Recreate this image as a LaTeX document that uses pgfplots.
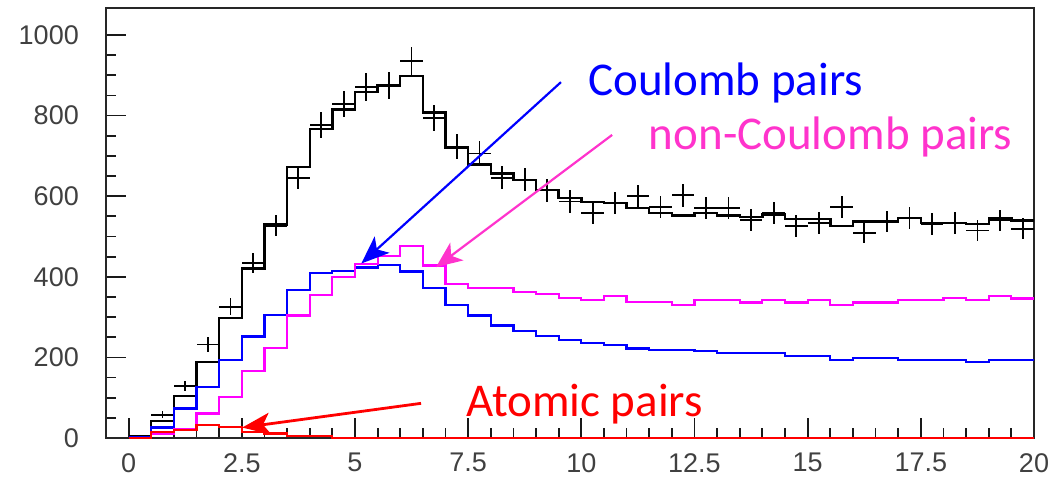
\documentclass[border=0pt]{standalone}
\usepackage{pgfplots}
\pgfplotsset{compat=1.18}
\usepackage{pgfplotstable}
\usepackage{fontspec}
\setmainfont{Liberation Sans}
\newfontfamily\carlito{Carlito}
\usetikzlibrary{arrows.meta}
\definecolor{magline}{HTML}{FF00FF}
\definecolor{magtext}{HTML}{FF33CC}

\pgfplotstableread{
x y
0 3
0.5 42
1 104
1.5 188
2 298
2.5 421
3 530
3.5 672
4 767
4.5 815
5 858
5.5 875
6 898
6.5 808
7 721
7.5 679
8 656
8.5 640
9 615
9.5 596
10 586
10.5 583
11 570
11.5 558
12 552
12.5 558
13 552
13.5 548
14 555
14.5 544
15 544
15.5 526
16 537
16.5 537
17 546
17.5 534
18 534
18.5 531
19 546
19.5 540
20 540
}\histblack

\pgfplotstableread{
x y
0 2
0.5 26
1 73
1.5 126
2 194
2.5 252
3 305
3.5 367
4 409
4.5 415
5 423
5.5 430
6 413
6.5 373
7 331
7.5 304
8 279
8.5 265
9 254
9.5 244
10 236
10.5 230
11 222
11.5 219
12 219
12.5 215
13 210
13.5 210
14 210
14.5 204
15 204
15.5 194
16 198
16.5 198
17 194
17.5 194
18 194
18.5 189
19 194
19.5 194
20 194
}\histblue

\pgfplotstableread{
x y
0 0
0.5 10
1 23
1.5 61
2 102
2.5 167
3 223
3.5 304
4 355
4.5 400
5 431
5.5 452
6 477
6.5 428
7 383
7.5 373
8 373
8.5 362
9 357
9.5 348
10 342
10.5 352
11 337
11.5 337
12 330
12.5 342
13 342
13.5 336
14 342
14.5 336
15 342
15.5 330
16 336
16.5 336
17 342
17.5 342
18 347
18.5 342
19 352
19.5 346
20 346
}\histmag

\pgfplotstableread{
x y
0 0
0.5 14
1 20
1.5 32
2 27
2.5 14
3 11
3.5 5
4 4
4.5 0
5 0
6 0
8 0
10 0
12 0
14 0
16 0
18 0
20 0
}\histred

\pgfplotstableread{
x y ex ey
0.25 5 0.25 3
0.75 58 0.25 9
1.25 129 0.25 13
1.75 232 0.25 17.5
2.25 326 0.25 21
2.75 434 0.25 24
3.25 527 0.25 26.4
3.75 646 0.25 29
4.25 776 0.25 32
4.75 829 0.25 33
5.25 871 0.25 34
5.75 875 0.25 34
6.25 935 0.25 35
6.75 794 0.25 32.4
7.25 723 0.25 31
7.75 706 0.25 30.5
8.25 646 0.25 29
8.75 641 0.25 29
9.25 615 0.25 28.5
9.75 587 0.25 28
10.25 559 0.25 27
10.75 583 0.25 28
11.25 600 0.25 28
11.75 574 0.25 27.5
12.25 602 0.25 28
12.75 571 0.25 27.5
13.25 571 0.25 27.5
13.75 541 0.25 26.7
14.25 559 0.25 27
14.75 526 0.25 26.4
15.25 534 0.25 26.6
15.75 573 0.25 27.5
16.25 509 0.25 26
16.75 537 0.25 26.6
17.25 546 0.25 26.9
17.75 531 0.25 26.5
18.25 534 0.25 26.6
18.75 515 0.25 26
19.25 540 0.25 26.7
19.75 519 0.25 26.2
}\points

\begin{document}
\begin{tikzpicture}
\begin{axis}[
  at={(0pt,0pt)}, anchor=south west,
  scale only axis, width=928pt, height=430pt,
  xmin=-0.5, xmax=20, ymin=0, ymax=1067,
  xtick={0,2.5,5,7.5,10,12.5,15,17.5,20},
  ytick={0,200,400,600,800,1000},
  minor x tick num=4, minor y tick num=3,
  xtick pos=lower, ytick pos=left, tick align=inside,
  major tick length=20pt, minor tick length=10pt,
  major tick style={line width=1.8pt, black!90},
  minor tick style={line width=1.8pt, black!90},
  axis line style={line width=2.6pt, black!85},
  tick label style={font=\fontsize{27}{27}\selectfont, text=black!75},
  /pgf/number format/assume math mode=true,
  /pgf/number format/1000 sep={},
  xticklabel style={inner sep=0pt, yshift=-15pt},
  yticklabel style={inner sep=0pt, xshift=-27pt},
  clip=false,
]
\addplot[black, line width=2.4pt, const plot mark left] table {\histblack};
\addplot[draw=none, mark=none,
  error bars/.cd, x dir=both, x explicit, y dir=both, y explicit,
  error mark=none, error bar style={draw=black, line width=1.8pt}]
  table[x=x, y=y, x error=ex, y error=ey] {\points};
\addplot[blue, line width=2.2pt, const plot mark left] table {\histblue};
\addplot[magline, line width=2.2pt, const plot mark left] table {\histmag};
\addplot[red, line width=2.2pt, const plot mark left] table {\histred};

\draw[blue, line width=2.2pt, -{Stealth[length=28pt,width=22pt,inset=7pt]}]
  (axis cs:9.55,883) -- (axis cs:5.14,433);
\draw[magtext, line width=2.2pt, -{Stealth[length=26pt,width=22pt,inset=7pt]}]
  (axis cs:10.68,752) -- (axis cs:6.79,424);
\draw[red, line width=2.8pt, -{Stealth[length=28pt,width=22pt,inset=7pt]}]
  (axis cs:6.46,86) -- (axis cs:2.51,26);

\node[anchor=base west, inner sep=0pt, text=blue, font=\carlito\fontsize{47}{47}\selectfont]
  at (axis cs:10.15,849) {Coulomb pairs};
\node[anchor=base west, inner sep=0pt, text=magtext, font=\carlito\fontsize{47}{47}\selectfont]
  at (axis cs:11.49,717) {non-Coulomb pairs};
\node[anchor=base west, inner sep=0pt, text=red, font=\carlito\fontsize{47}{47}\selectfont]
  at (axis cs:7.45,54) {Atomic pairs};
\end{axis}
\pgfresetboundingbox
\path[use as bounding box] (-106pt,-39pt) rectangle (945pt,438pt);
\end{tikzpicture}
\end{document}
